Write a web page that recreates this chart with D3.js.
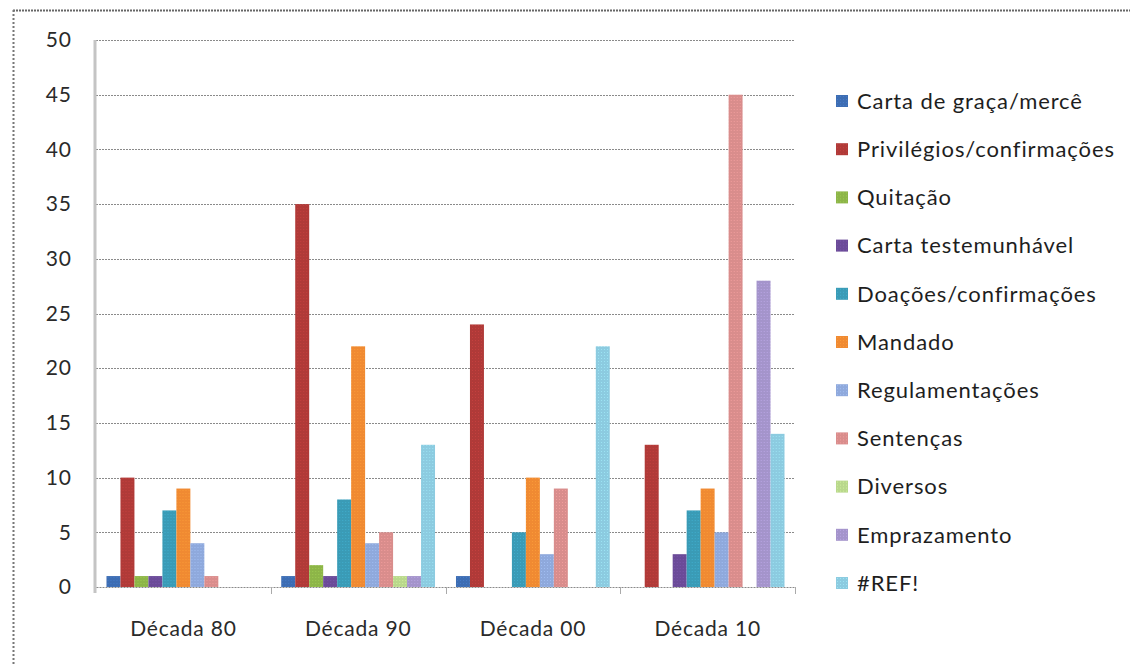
<!DOCTYPE html>
<html>
<head>
<meta charset="utf-8">
<script src="https://cdn.jsdelivr.net/npm/d3@7"></script>
<style>
  html, body { margin: 0; padding: 0; background: #fff; }
  svg { display: block; }
  text { font-family: Lato, "Open Sans", sans-serif; }
</style>
</head>
<body>
<svg id="chart" width="1130" height="666"></svg>
<script>
// Décadas no eixo horizontal
const decades = ["Década 80", "Década 90", "Década 00", "Década 10"];

// Tipos documentais (séries)
const seriesNames = [
  "Carta de graça/mercê",
  "Privilégios/confirmações",
  "Quitação",
  "Carta testemunhável",
  "Doações/confirmações",
  "Mandado",
  "Regulamentações",
  "Sentenças",
  "Diversos",
  "Emprazamento",
  "#REF!"
];

// Número de documentos por série, uma entrada por década
const cartaGraca      = [1, 1, 1, 0];
const privilegios     = [10, 35, 24, 13];
const quitacao        = [1, 2, 0, 0];
const cartaTestem     = [1, 1, 0, 3];
const doacoes         = [7, 8, 5, 7];
const mandado         = [9, 22, 10, 9];
const regulamentacoes = [4, 4, 3, 5];
const sentencas       = [1, 5, 9, 45];
const diversos        = [0, 1, 0, 0];
const emprazamento    = [0, 1, 0, 28];
const refErro         = [0, 13, 22, 14];

const yTicks = [0, 5, 10, 15, 20, 25, 30, 35, 40, 45, 50];

const seriesValues = [cartaGraca, privilegios, quitacao, cartaTestem, doacoes,
  mandado, regulamentacoes, sentencas, diversos, emprazamento, refErro];

const colors = ["#3d6db3", "#b03a38", "#8db548", "#6b4b98", "#3a9bb6", "#f08a32",
  "#8fa9dc", "#d98d8c", "#b9d88c", "#a494cb", "#8ccbe0"];

const svg = d3.select("#chart");

// Moldura pontilhada
svg.append("line").attr("x1", 13).attr("x2", 1130).attr("y1", 10.5).attr("y2", 10.5)
  .attr("stroke", "#666").attr("stroke-width", 2).attr("stroke-dasharray", "2,1");
svg.append("line").attr("x1", 13.5).attr("x2", 13.5).attr("y1", 10).attr("y2", 666)
  .attr("stroke", "#777").attr("stroke-width", 2).attr("stroke-dasharray", "2,2");

const plot = { left: 96, right: 795, top: 40, bottom: 587 };

const y = d3.scaleLinear().domain([0, 50]).range([plot.bottom, plot.top]);
const x0 = d3.scaleBand().domain(decades).range([plot.left, plot.right])
  .paddingInner(0.12).paddingOuter(0.06);
const x1 = d3.scaleBand().domain(seriesNames).range([0, x0.bandwidth()]);

// Textura pontilhada das barras
const defs = svg.append("defs");
colors.forEach((c, i) => {
  const p = defs.append("pattern").attr("id", "pat" + i)
    .attr("patternUnits", "userSpaceOnUse").attr("width", 3).attr("height", 3);
  p.append("rect").attr("width", 3).attr("height", 3).attr("fill", c);
  p.append("rect").attr("x", 1).attr("y", 1).attr("width", 1).attr("height", 1)
    .attr("fill", d3.color(c).brighter(0.5)).attr("opacity", 0.6);
});

// Grelha horizontal
svg.append("g").selectAll("line").data(yTicks.filter(d => d > 0)).join("line")
  .attr("x1", plot.left).attr("x2", plot.right)
  .attr("y1", d => Math.round(y(d)) + 0.5).attr("y2", d => Math.round(y(d)) + 0.5)
  .attr("stroke", "#8a8a8a").attr("stroke-width", 1).attr("stroke-dasharray", "2,1");

// Eixo Y
const yAxis = svg.append("g").attr("transform", `translate(${plot.left},0)`)
  .call(d3.axisLeft(y).tickValues(yTicks).tickSize(0).tickPadding(24));
yAxis.select(".domain").remove();
yAxis.selectAll("text").attr("font-size", 21).attr("fill", "#2a2a2a")
  .attr("letter-spacing", 1).style("font-family", "Lato, sans-serif");
svg.append("line").attr("x1", plot.left - 1).attr("x2", plot.left - 1)
  .attr("y1", plot.top).attr("y2", plot.bottom + 6)
  .attr("stroke", "#c4c4c4").attr("stroke-width", 3);

// Barras
const groups = svg.append("g").selectAll("g").data(decades).join("g")
  .attr("transform", d => `translate(${x0(d)},0)`);
groups.selectAll("rect")
  .data((d, di) => seriesNames.map((s, si) => ({ s, si, v: seriesValues[si][di] })))
  .join("rect")
  .attr("x", d => x1(d.s))
  .attr("width", x1.bandwidth())
  .attr("y", d => y(d.v))
  .attr("height", d => plot.bottom - y(d.v))
  .attr("fill", d => `url(#pat${d.si})`);

// Eixo X
const xAxis = svg.append("g").attr("transform", `translate(0,${plot.bottom})`)
  .call(d3.axisBottom(x0).tickSize(0).tickPadding(34));
xAxis.select(".domain").attr("stroke", "#8a8a8a").attr("stroke-dasharray", "2,1");
xAxis.selectAll("text").attr("font-size", 21).attr("fill", "#2a2a2a")
  .attr("letter-spacing", 0.8).style("font-family", "Lato, sans-serif");
const bounds = decades.map(d => x0(d) - x0.step() * x0.paddingInner() / 2).concat([plot.right]);
svg.append("g").selectAll("line").data(bounds.slice(1)).join("line")
  .attr("x1", d => Math.round(d) + 0.5).attr("x2", d => Math.round(d) + 0.5)
  .attr("y1", plot.bottom).attr("y2", plot.bottom + 7)
  .attr("stroke", "#aaa").attr("stroke-width", 1);

// Legenda
const legend = svg.append("g").attr("transform", "translate(836,101)");
const item = legend.selectAll("g").data(seriesNames).join("g")
  .attr("transform", (d, i) => `translate(0,${i * 48.2})`);
item.append("rect").attr("x", 0).attr("y", -6).attr("width", 12).attr("height", 12)
  .attr("fill", (d, i) => `url(#pat${i})`);
item.append("text").attr("x", 21).attr("y", 0).attr("dy", "0.35em")
  .attr("font-size", 22).attr("letter-spacing", 0.9).attr("fill", "#1e1e1e")
  .text(d => d);
</script>
</body>
</html>
